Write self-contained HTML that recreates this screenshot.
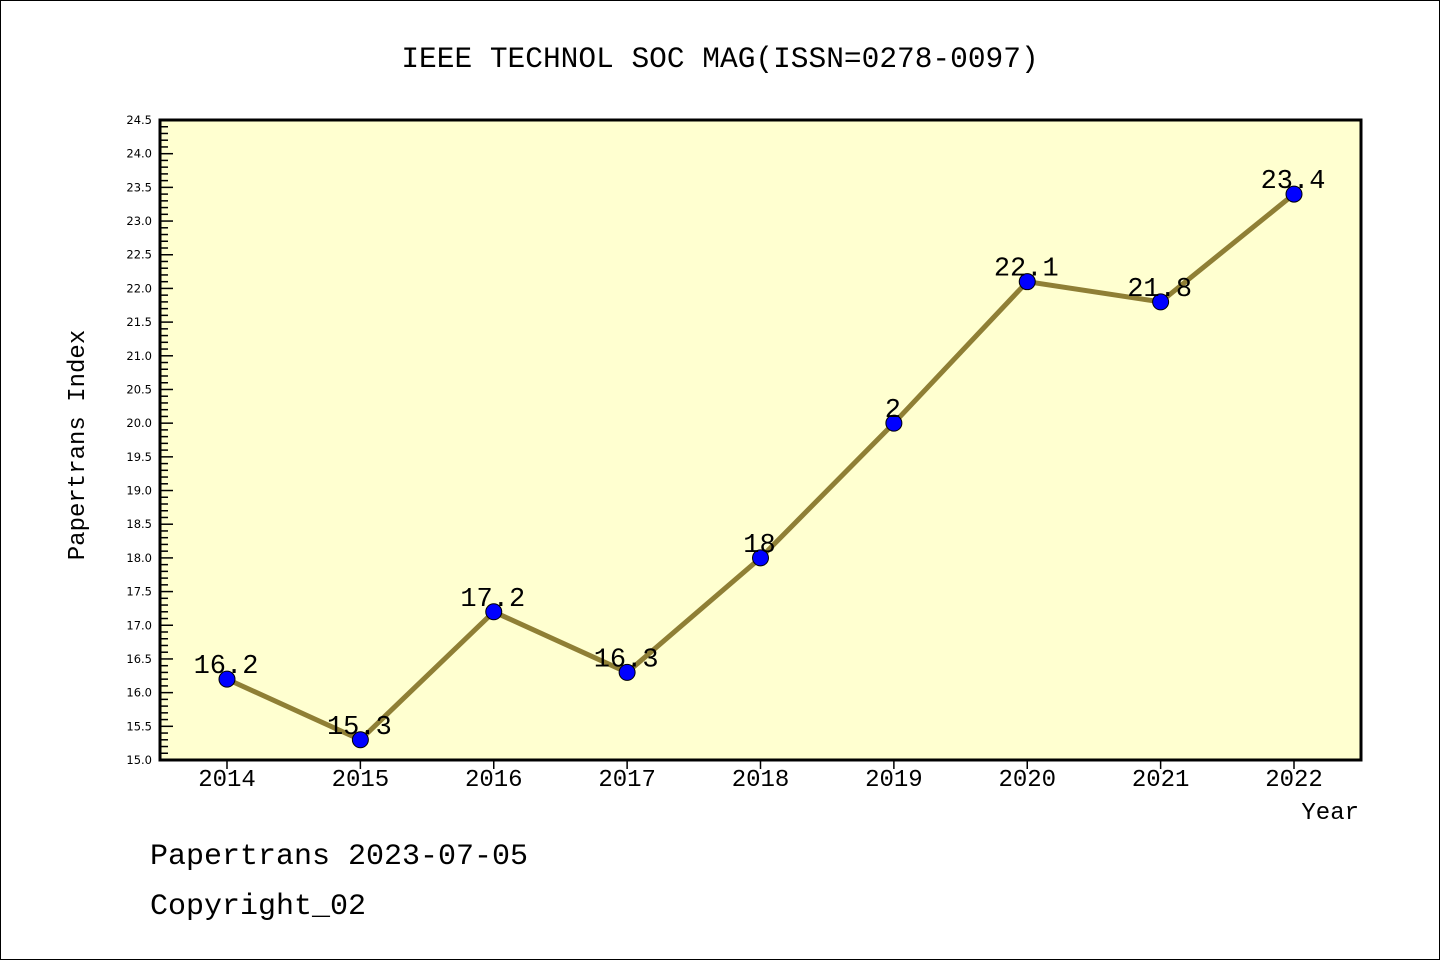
<!DOCTYPE html>
<html><head><meta charset="utf-8"><style>
html,body{margin:0;padding:0;background:#fff;}
svg{display:block;}
</style></head><body>
<svg width="1440" height="960" xmlns="http://www.w3.org/2000/svg">
<rect x="0.5" y="0.5" width="1439" height="959" fill="#fff" stroke="#000"/>
<text x="720" y="67" text-anchor="middle" font-family="'Liberation Mono','Noto Sans CJK SC',monospace" font-size="29.5">IEEE TECHNOL SOC MAG(ISSN=0278-0097)</text>
<rect x="160" y="120" width="1201" height="640" fill="#ffffd0"/>
<g id="yticks"></g><g id="xticks"></g>
<g id="series"></g>
<rect x="160" y="120" width="1201" height="640" fill="none" stroke="#000" stroke-width="3"/>
<text transform="translate(84,445) rotate(-90)" text-anchor="middle" font-family="'Liberation Mono','Noto Sans CJK SC',monospace" font-size="24">Papertrans Index</text>
<text x="1359" y="819" text-anchor="end" font-family="'Liberation Mono','Noto Sans CJK SC',monospace" font-size="24">Year</text>
<text x="150" y="864" font-family="'Liberation Mono','Noto Sans CJK SC',monospace" font-size="30">Papertrans 2023-07-05</text>
<text x="150" y="914" font-family="'Liberation Mono','Noto Sans CJK SC',monospace" font-size="30">Copyright_02</text>
</svg>
<script>
const years = [2014,2015,2016,2017,2018,2019,2020,2021,2022];
const values = [16.2,15.3,17.2,16.3,18,20,22.1,21.8,23.4];
const valueLabels = ["16.2","15.3","17.2","16.3","18","2","22.1","21.8","23.4"];
const yMin = 15.0, yMax = 24.5;
const NS = "http://www.w3.org/2000/svg";
const L=160,R=1361,T=120,B=760;
function yS(v){return B-(v-yMin)/(yMax-yMin)*(B-T);}
function xS(i){return 227+i*(1294-227)/(years.length-1);}
function mk(tag,attrs,parent){const e=document.createElementNS(NS,tag);for(const k in attrs)e.setAttribute(k,attrs[k]);parent.appendChild(e);return e;}
const yg=document.getElementById('yticks');
for(let k=0;k<=Math.round((yMax-yMin)*10);k++){
  const v=yMin+k*0.1, y=yS(v), major=k%5===0;
  const t=mk('line',{x1:L,x2:L+(major?13:8),y1:y,y2:y,stroke:'#000','stroke-width':1.5},yg);
  
  
  if(major){
    const tx=mk('text',{x:152,y:y+4,'text-anchor':'end','font-family':"'DejaVu Sans',sans-serif",'font-size':11.5},yg);
    tx.textContent=v.toFixed(1);
    
    
  }
}
const xg=document.getElementById('xticks');
years.forEach((yr,i)=>{
  const x=xS(i);
  const t=mk('line',{x1:x,x2:x,y1:B,y2:B+9,stroke:'#000','stroke-width':1.5},xg);
  
  
  const tx=mk('text',{x:x,y:786,'text-anchor':'middle','font-family':"'Liberation Mono',monospace",'font-size':24},xg);
  tx.textContent=yr;
  
  
});
const sg=document.getElementById('series');
const pl=mk('polyline',{points:values.map((v,i)=>xS(i)+','+yS(v)).join(' '),fill:'none',stroke:'#8f7f35','stroke-width':5},sg);


values.forEach((v,i)=>{
  const c=mk('circle',{cx:xS(i),cy:yS(v),r:8,fill:'#0000ff',stroke:'#000','stroke-width':1},sg);
  
  
  const tx=mk('text',{x:xS(i)-1,y:yS(v)-6,'text-anchor':'middle','font-family':"'Liberation Mono',monospace",'font-size':27},sg);
  tx.textContent=valueLabels[i];
  
  
});
</script>
</body></html>
